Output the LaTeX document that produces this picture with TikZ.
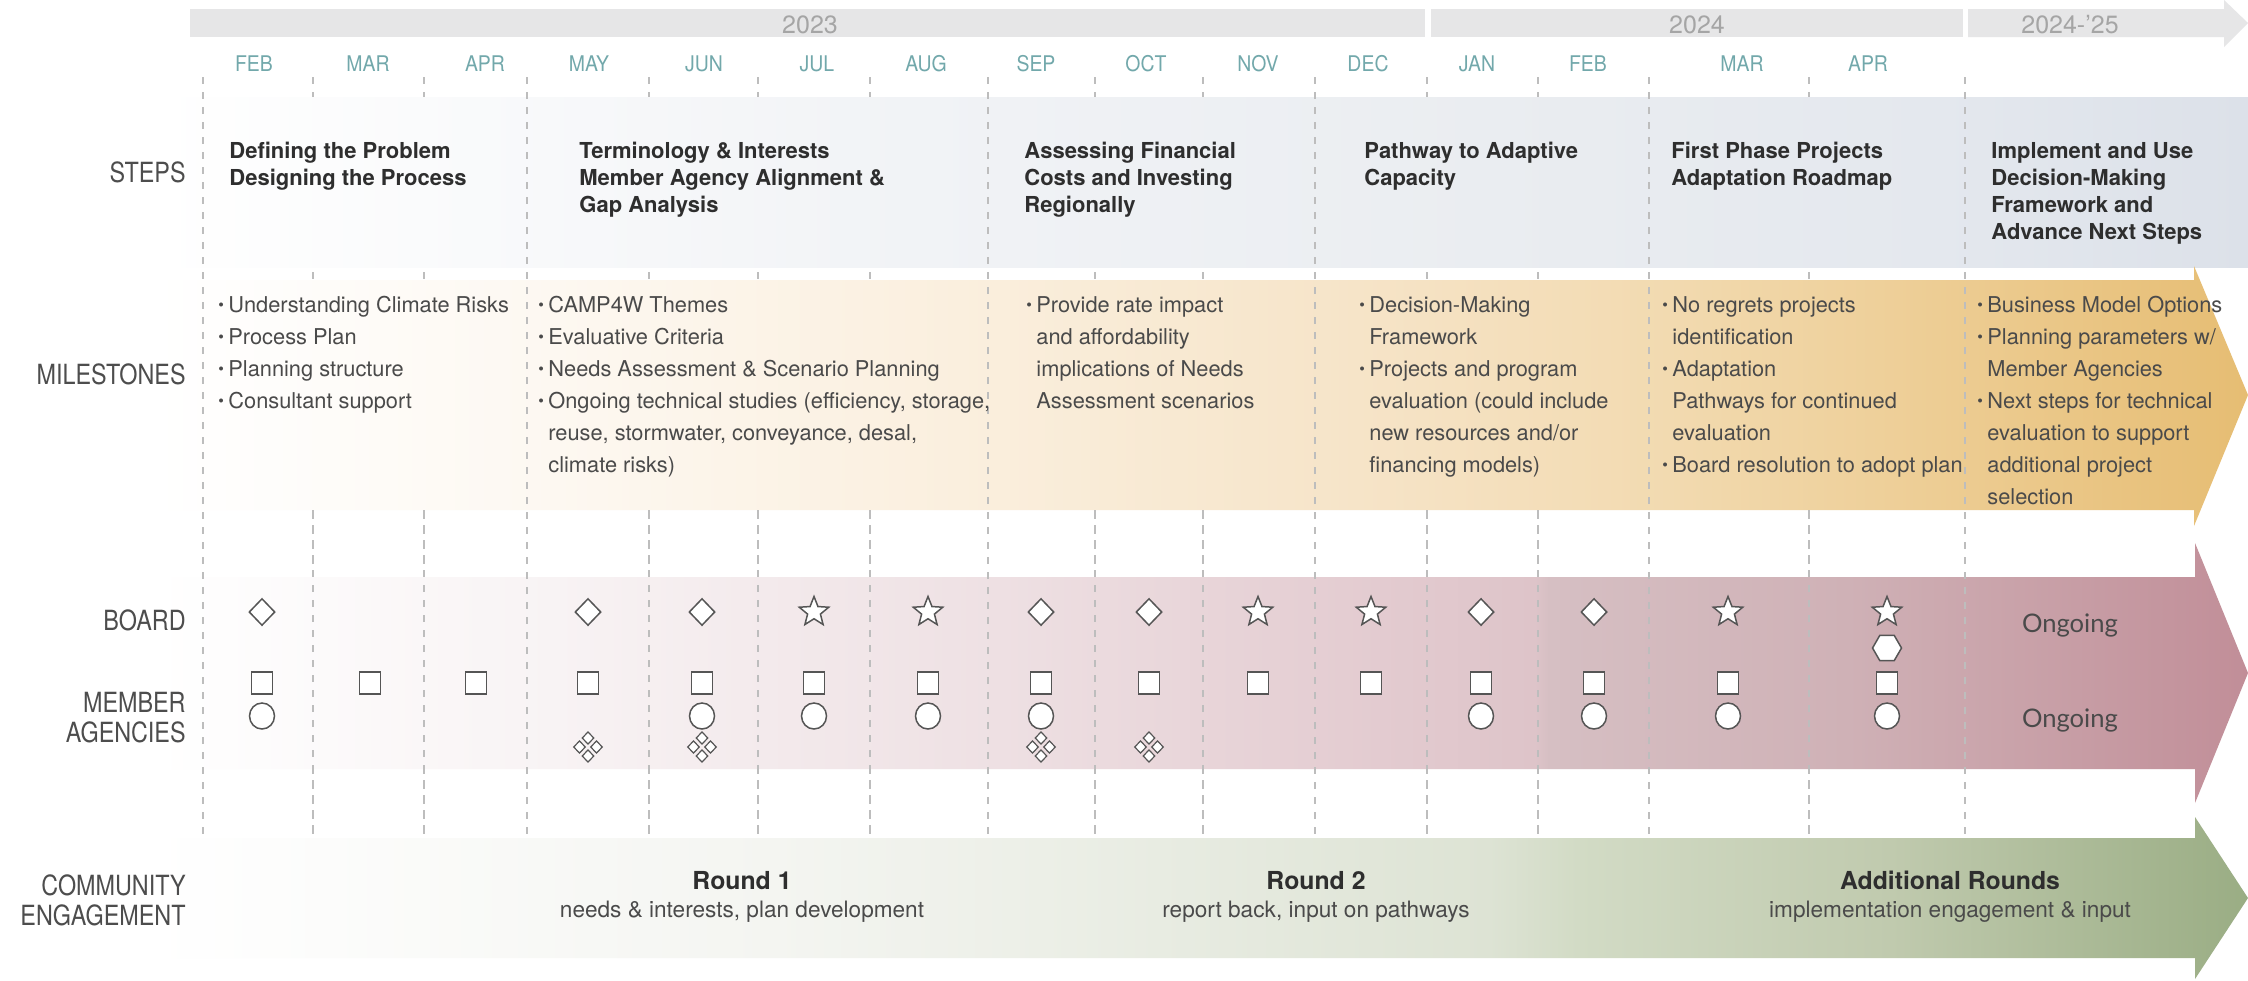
\documentclass[tikz,border=0pt]{standalone}
\usepackage{fontspec}
\usepackage{graphicx}
\setmainfont{TeX Gyre Heros}
\newfontfamily\lblfont[FakeStretch=0.84]{TeX Gyre Heros}
\newfontfamily\monthfont[FakeStretch=0.9]{TeX Gyre Heros}
\newfontfamily\latofont{Lato}
\usetikzlibrary{shapes.geometric}

\definecolor{topgray}{HTML}{E6E6E7}
\definecolor{yeargray}{HTML}{A5A5A5}
\definecolor{monthcol}{HTML}{72A8AB}
\definecolor{linegray}{HTML}{BDBDBD}
\definecolor{headcol}{HTML}{2E2E2E}
\definecolor{mstcol}{HTML}{4A4A4A}
\definecolor{lblcol}{HTML}{4D4D4D}
\definecolor{symcol}{HTML}{555555}

\definecolor{stA}{HTML}{F1F3F6}
\definecolor{stB}{HTML}{E9ECF0}
\definecolor{stC}{HTML}{E4E8EE}
\definecolor{stD}{HTML}{DCE1E9}
\definecolor{msA}{HTML}{FDF8F1}
\definecolor{msB}{HTML}{FAEEDC}
\definecolor{msC}{HTML}{F6E4C8}
\definecolor{msD}{HTML}{F2DAB0}
\definecolor{msE}{HTML}{EDCD94}
\definecolor{msF}{HTML}{E6BD73}
\definecolor{bdA}{HTML}{F8F3F4}
\definecolor{bdB}{HTML}{EEE0E3}
\definecolor{bdC}{HTML}{E3CBD0}
\definecolor{bdD}{HTML}{DEC4C9}
\definecolor{bdE}{HTML}{D6BFC3}
\definecolor{bdF}{HTML}{CFB1B6}
\definecolor{bdG}{HTML}{C18E98}
\definecolor{cmA}{HTML}{F4F5F1}
\definecolor{cmB}{HTML}{ECEFE7}
\definecolor{cmC}{HTML}{DDE3D4}
\definecolor{cmD}{HTML}{D2DBC5}
\definecolor{cmE}{HTML}{C0CAAE}
\definecolor{cmF}{HTML}{9AAD84}

\pgfdeclarehorizontalshading{stepsshade}{100bp}{color(0bp)=(white); color(25bp)=(white); color(28bp)=(white); color(45bp)=(stA); color(60bp)=(stB); color(68bp)=(stC); color(75bp)=(stD); color(100bp)=(stD)}
\pgfdeclarehorizontalshading{msshade}{100bp}{color(0bp)=(white); color(25bp)=(white); color(28bp)=(white); color(37bp)=(msA); color(47bp)=(msB); color(55bp)=(msC); color(62bp)=(msD); color(68bp)=(msE); color(75bp)=(msF); color(100bp)=(msF)}
\pgfdeclarehorizontalshading{bdshade}{100bp}{color(0bp)=(white); color(25bp)=(white); color(28bp)=(white); color(37bp)=(bdA); color(47bp)=(bdB); color(55.5bp)=(bdC); color(59bp)=(bdD); color(59.3bp)=(bdE); color(66bp)=(bdF); color(75bp)=(bdG); color(100bp)=(bdG)}
\pgfdeclarehorizontalshading{cmshade}{100bp}{color(0bp)=(white); color(25bp)=(white); color(28bp)=(white); color(42bp)=(cmA); color(48bp)=(cmB); color(58bp)=(cmC); color(60bp)=(cmD); color(67bp)=(cmE); color(75bp)=(cmF); color(100bp)=(cmF)}

\newcommand{\bul}{\makebox[5pt][l]{\raisebox{0.6pt}{\fontsize{8}{8}\selectfont\textbullet}}}
\newcommand{\ind}{\hspace*{5pt}}

\begin{document}
\begin{tikzpicture}[x=0.5pt,y=-0.5pt,
  yearlbl/.style={anchor=base, inner sep=0, text=yeargray, font=\fontsize{12.5}{14}\selectfont},
  monthlbl/.style={anchor=base, inner sep=0, text=monthcol, font=\monthfont\fontsize{10.8}{12}\selectfont},
  rowlbl/.style={anchor=base east, inner sep=0, text=lblcol, font=\lblfont\fontsize{13.9}{15}\selectfont},
  stephead/.style={anchor=base west, inner sep=0, text=headcol, font=\bfseries\fontsize{11}{13.5}\selectfont},
  mst/.style={anchor=base west, inner sep=0, text=mstcol, font=\fontsize{10.9}{16}\selectfont},
  roundhead/.style={anchor=base, inner sep=0, text=headcol, font=\bfseries\fontsize{12.4}{14}\selectfont},
  roundsub/.style={anchor=base, inner sep=0, text=mstcol, font=\fontsize{11.3}{13}\selectfont},
  ongoing/.style={anchor=base, inner sep=0, text=mstcol, font=\latofont\fontsize{12.8}{14}\selectfont},
  dline/.style={draw=linegray, line width=0.7pt, dash pattern=on 3.5pt off 4pt},
  sym/.style={draw=symcol, fill=white, line width=0.75pt, inner sep=0},
  dia/.style={sym, diamond, minimum width=13pt, minimum height=13.5pt},
  strr/.style={sym, star, star points=5, star point ratio=2.3, minimum size=15.5pt},
  sqr/.style={sym, rectangle, minimum width=10.5pt, minimum height=11pt},
  crc/.style={sym, ellipse, minimum width=12.5pt, minimum height=13pt},
  hexa/.style={sym, regular polygon, regular polygon sides=6, minimum size=14.5pt},
  smalldia/.style={sym, diamond, line width=0.6pt, minimum width=6pt, minimum height=6.3pt},
  cluster/.pic={
    \node[smalldia] (-t) at (0,-9) {};
    \node[smalldia] (-l) at (-8.5,0) {};
    \node[smalldia] (-r) at (8.5,0) {};
    \node[smalldia] (-b) at (0,9) {};
  }
]
\useasboundingbox (0,0) rectangle (2248,980);
\fill[white] (0,0) rectangle (2248,980);

% ---------- top year band ----------
\fill[topgray] (190,9) rectangle (1425,37);
\fill[topgray] (1431,9) rectangle (1963,37);
\fill[topgray] (1968,9) -- (2224,9) -- (2224,0) -- (2248,23) -- (2224,47) -- (2224,37) -- (1968,37) -- cycle;
\node[yearlbl] (y23) at (810,33) {2023};
\node[yearlbl] (y24) at (1697,33) {2024};
\node[yearlbl] (y25) at (2070,33) {2024-'25};

% ---------- months ----------
\foreach \mx/\mt [count=\i] in {254/FEB,368/MAR,485/APR,589/MAY,704/JUN,817/JUL,926/AUG,1036/SEP,1146/OCT,1258/NOV,1368/DEC,1477/JAN,1588/FEB,1742/MAR,1868/APR}
  \node[monthlbl] (mo\i) at (\mx,71) {\mt};

% ---------- background dashed lines (minor) ----------
\foreach \lx in {313,424,649,758,870,1095,1203,1427,1538,1809}
  \draw[dline] (\lx,77) -- (\lx,838);

% ---------- steps band ----------
\shade[shading=stepsshade] (20,97) rectangle (2248,267);

% ---------- milestones arrow ----------
\shade[shading=msshade] (20,280) -- (2194,280) -- (2194,266) -- (2248,395) -- (2194,526) -- (2194,510) -- (20,510) -- cycle;

% ---------- board arrow ----------
\shade[shading=bdshade] (20,577) -- (2195,577) -- (2195,543) -- (2248,673) -- (2195,803) -- (2195,769) -- (20,769) -- cycle;

% minor lines over board band and gaps
\foreach \lx in {313,424,649,758,870,1095,1203,1427,1538,1809}
  \draw[dline] (\lx,510) -- (\lx,838);

% main dividers
\foreach \lx in {203,527,988,1315,1649,1965}
  \draw[dline] (\lx,77) -- (\lx,838);

% ---------- community arrow ----------
\shade[shading=cmshade] (14,838) -- (2195,838) -- (2195,817) -- (2248,898) -- (2195,979) -- (2195,958) -- (14,958) -- cycle;

% ---------- row labels ----------
\node[rowlbl] (lsteps) at (186,182) {STEPS};
\node[rowlbl] (lmile) at (186,384) {MILESTONES};
\node[rowlbl] (lboard) at (186,630) {BOARD};
\node[rowlbl] (lmem) at (186,712) {\parbox[t]{120pt}{\raggedleft MEMBER\\AGENCIES}};
\node[rowlbl] (lcom) at (186,895) {\parbox[t]{140pt}{\raggedleft COMMUNITY\\ENGAGEMENT}};

% ---------- steps ----------
\node[stephead] (s1) at (229,158) {\parbox[t]{200pt}{\raggedright Defining the Problem\\Designing the Process}};
\node[stephead] (s2) at (579,158) {\parbox[t]{200pt}{\raggedright Terminology \& Interests\\Member Agency Alignment \&\\Gap Analysis}};
\node[stephead] (s3) at (1024,158) {\parbox[t]{200pt}{\raggedright Assessing Financial\\Costs and Investing\\Regionally}};
\node[stephead] (s4) at (1364,158) {\parbox[t]{200pt}{\raggedright Pathway to Adaptive\\Capacity}};
\node[stephead] (s5) at (1671,158) {\parbox[t]{200pt}{\raggedright First Phase Projects\\Adaptation Roadmap}};
\node[stephead] (s6) at (1991,158) {\parbox[t]{200pt}{\raggedright Implement and Use\\Decision-Making\\Framework and\\Advance Next Steps}};

% ---------- milestones ----------
\node[mst] (ms1) at (218,312) {\parbox[t]{200pt}{\raggedright
  \bul Understanding Climate Risks\\\bul Process Plan\\\bul Planning structure\\\bul Consultant support}};
\node[mst] (ms2) at (538,312) {\parbox[t]{240pt}{\raggedright
  \bul CAMP4W Themes\\\bul Evaluative Criteria\\\bul Needs Assessment \& Scenario Planning\\\bul Ongoing technical studies (efficiency, storage,\\\ind reuse, stormwater, conveyance, desal,\\\ind climate risks)}};
\node[mst] (ms3) at (1026,312) {\parbox[t]{200pt}{\raggedright
  \bul Provide rate impact\\\ind and affordability\\\ind implications of Needs\\\ind Assessment scenarios}};
\node[mst] (ms4) at (1359,312) {\parbox[t]{200pt}{\raggedright
  \bul Decision-Making\\\ind Framework\\\bul Projects and program\\\ind evaluation (could include\\\ind new resources and/or\\\ind financing models)}};
\node[mst] (ms5) at (1662,312) {\parbox[t]{200pt}{\raggedright
  \bul No regrets projects\\\ind identification\\\bul Adaptation\\\ind Pathways for continued\\\ind evaluation\\\bul Board resolution to adopt plan}};
\node[mst] (ms6) at (1977,312) {\parbox[t]{200pt}{\raggedright
  \bul Business Model Options\\\bul Planning parameters w/\\\ind Member Agencies\\\bul Next steps for technical\\\ind evaluation to support\\\ind additional project\\\ind selection}};

% ---------- board symbols ----------
\node[dia] (b1) at (262,612) {};
\node[dia] (b4) at (588,612) {};
\node[dia] (b5) at (702,612) {};
\node[strr] (b6) at (814,612) {};
\node[strr] (b7) at (928,612) {};
\node[dia] (b8) at (1041,612) {};
\node[dia] (b9) at (1149,612) {};
\node[strr] (b10) at (1258,612) {};
\node[strr] (b11) at (1371,612) {};
\node[dia] (b12) at (1481,612) {};
\node[dia] (b13) at (1594,612) {};
\node[strr] (b14) at (1728,612) {};
\node[strr] (b15) at (1887,612) {};
\node[hexa] (h15) at (1887,648) {};

% ---------- member agency squares ----------
\foreach \sx [count=\i] in {262,370,476,588,702,814,928,1041,1149,1258,1371,1481,1594,1728,1887}
  \node[sqr] (q\i) at (\sx,683) {};

% circles
\foreach \cx/\n in {262/1,702/5,814/6,928/7,1041/8,1481/12,1594/13,1728/14,1887/15}
  \node[crc] (c\n) at (\cx,716) {};

% clusters
\pic (k4) at (588,747) {cluster};
\pic (k5) at (702,747) {cluster};
\pic (k8) at (1041,747) {cluster};
\pic (k9) at (1149,747) {cluster};

\node[ongoing] (og1) at (2070,632) {Ongoing};
\node[ongoing] (og2) at (2070,727) {Ongoing};

% ---------- community ----------
\node[roundhead] (r1) at (742,889) {Round 1};
\node[roundsub] (r1s) at (742,917) {needs \& interests, plan development};
\node[roundhead] (r2) at (1316,889) {Round 2};
\node[roundsub] (r2s) at (1316,917) {report back, input on pathways};
\node[roundhead] (r3) at (1950,889) {Additional Rounds};
\node[roundsub] (r3s) at (1950,917) {implementation engagement \& input};
\end{tikzpicture}
\end{document}
